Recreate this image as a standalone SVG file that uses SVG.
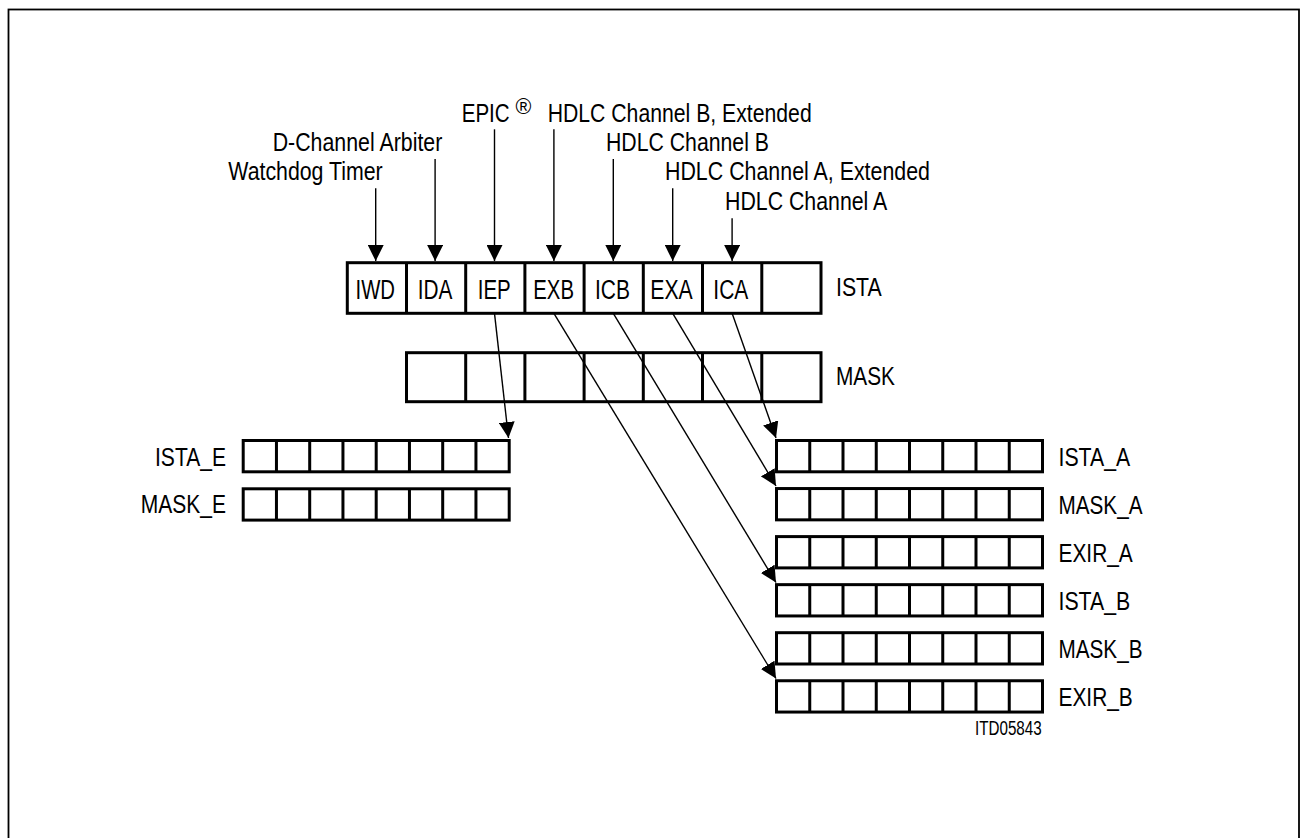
<svg xmlns="http://www.w3.org/2000/svg" xmlns:xlink="http://www.w3.org/1999/xlink" width="1300" height="838" viewBox="0 0 1300 838">
<style>
  text { font-family: "Liberation Sans", Arial, Helvetica, sans-serif; font-size: 26.5px; fill: #000; }
  .reg { fill: #fff; stroke: #000; stroke-width: 3; }
  .div { fill: none; stroke: #000; stroke-width: 3; }
  .con { fill: none; stroke: #000; stroke-width: 1.4; marker-end: url(#ah); }
  .cell { font-size: 27px; }
  .small { font-size: 19.3px; }
</style>
<defs>
  <marker id="ah" viewBox="0 0 16 16" refX="16" refY="8" markerWidth="16" markerHeight="16" markerUnits="userSpaceOnUse" orient="auto">
    <path d="M0,0 L16,8 L0,16 z" fill="#000"/>
  </marker>
  <g id="r8">
    <rect class="reg" x="0" y="0" width="266" height="31.3"/>
    <path class="div" d="M33.25,0v31.3M66.5,0v31.3M99.75,0v31.3M133,0v31.3M166.25,0v31.3M199.5,0v31.3M232.75,0v31.3"/>
  </g>
</defs>
<rect width="1300" height="838" fill="#fff"/>
<rect x="8.5" y="9.5" width="1290.5" height="840" fill="none" stroke="#000" stroke-width="1.8"/>

<g id="labels-sources">
  <text transform="translate(461.7,122) scale(0.776,1)" x="0" y="0">EPIC</text>
  <text x="515.5" y="113.5" style="font-size:21.5px">®</text>
  <text x="547.7" y="122" textLength="264" lengthAdjust="spacingAndGlyphs">HDLC Channel B, Extended</text>
  <text x="272.7" y="151" textLength="169.6" lengthAdjust="spacingAndGlyphs">D-Channel Arbiter</text>
  <text x="606" y="150.5" textLength="163" lengthAdjust="spacingAndGlyphs">HDLC Channel B</text>
  <text x="228.3" y="180" textLength="154.4" lengthAdjust="spacingAndGlyphs">Watchdog Timer</text>
  <text x="665" y="180" textLength="265" lengthAdjust="spacingAndGlyphs">HDLC Channel A, Extended</text>
  <text x="725" y="209.5" textLength="162.3" lengthAdjust="spacingAndGlyphs">HDLC Channel A</text>
</g>

<g id="ISTA">
  <rect class="reg" x="347.3" y="262.7" width="473.7" height="50.6"/>
  <path class="div" d="M406.5,262.7V313.3M465.7,262.7V313.3M524.9,262.7V313.3M584.1,262.7V313.3M643.3,262.7V313.3M702.5,262.7V313.3M761.8,262.7V313.3"/>
  <text class="cell" x="355.5" y="298.5" textLength="39.5" lengthAdjust="spacingAndGlyphs">IWD</text>
  <text class="cell" x="417.7" y="298.5" textLength="34.7" lengthAdjust="spacingAndGlyphs">IDA</text>
  <text class="cell" x="477.7" y="298.5" textLength="33" lengthAdjust="spacingAndGlyphs">IEP</text>
  <text class="cell" x="533.3" y="298.5" textLength="40.7" lengthAdjust="spacingAndGlyphs">EXB</text>
  <text class="cell" x="595" y="298.5" textLength="35" lengthAdjust="spacingAndGlyphs">ICB</text>
  <text class="cell" x="650.3" y="298.5" textLength="42.4" lengthAdjust="spacingAndGlyphs">EXA</text>
  <text class="cell" x="713.3" y="298.5" textLength="35" lengthAdjust="spacingAndGlyphs">ICA</text>
  <text x="836" y="296" textLength="45.7" lengthAdjust="spacingAndGlyphs">ISTA</text>
</g>

<g id="MASK">
  <rect class="reg" x="406.5" y="352.7" width="414.5" height="49"/>
  <path class="div" d="M465.7,352.7V401.7M524.9,352.7V401.7M584.1,352.7V401.7M643.3,352.7V401.7M702.5,352.7V401.7M761.8,352.7V401.7"/>
  <text x="836" y="385" textLength="59" lengthAdjust="spacingAndGlyphs">MASK</text>
</g>

<g id="ISTA_E">
  <use xlink:href="#r8" href="#r8" transform="translate(243.2,440.5)"/>
  <text x="155" y="465.5" textLength="71" lengthAdjust="spacingAndGlyphs">ISTA_E</text>
</g>
<g id="MASK_E">
  <use xlink:href="#r8" href="#r8" transform="translate(243.2,488.8)"/>
  <text x="140.7" y="513" textLength="85.3" lengthAdjust="spacingAndGlyphs">MASK_E</text>
</g>

<g id="ISTA_A">
  <use xlink:href="#r8" href="#r8" transform="translate(776.5,440.5)"/>
  <text x="1058.5" y="465.7" textLength="71.7" lengthAdjust="spacingAndGlyphs">ISTA_A</text>
</g>
<g id="MASK_A">
  <use xlink:href="#r8" href="#r8" transform="translate(776.5,488.55)"/>
  <text x="1058.5" y="514" textLength="84" lengthAdjust="spacingAndGlyphs">MASK_A</text>
</g>
<g id="EXIR_A">
  <use xlink:href="#r8" href="#r8" transform="translate(776.5,536.6)"/>
  <text x="1058.5" y="562" textLength="74.3" lengthAdjust="spacingAndGlyphs">EXIR_A</text>
</g>
<g id="ISTA_B">
  <use xlink:href="#r8" href="#r8" transform="translate(776.5,584.65)"/>
  <text x="1058.5" y="610" textLength="71.7" lengthAdjust="spacingAndGlyphs">ISTA_B</text>
</g>
<g id="MASK_B">
  <use xlink:href="#r8" href="#r8" transform="translate(776.5,632.7)"/>
  <text x="1058.5" y="658" textLength="84" lengthAdjust="spacingAndGlyphs">MASK_B</text>
</g>
<g id="EXIR_B">
  <use xlink:href="#r8" href="#r8" transform="translate(776.5,680.75)"/>
  <text x="1058.5" y="706" textLength="74.3" lengthAdjust="spacingAndGlyphs">EXIR_B</text>
</g>

<g id="figure-id">
  <text class="small" x="975" y="735" textLength="66.7" lengthAdjust="spacingAndGlyphs">ITD05843</text>
</g>

<g id="connectors">
  <path class="con" d="M375.7,188.3V261"/>
  <path class="con" d="M435.1,159V261"/>
  <path class="con" d="M494.5,129.3V261"/>
  <path class="con" d="M553.9,129.3V261"/>
  <path class="con" d="M613.3,159V261"/>
  <path class="con" d="M672.7,188.3V261"/>
  <path class="con" d="M732.1,218.3V261"/>
  <path class="con" d="M494.5,313.3L508.5,438"/>
  <path class="con" d="M553.9,313.3L776,678.5"/>
  <path class="con" d="M613.3,313.3L776,582.5"/>
  <path class="con" d="M672.7,313.3L776,486"/>
  <path class="con" d="M732.1,313.3L776,438"/>
</g>
</svg>
